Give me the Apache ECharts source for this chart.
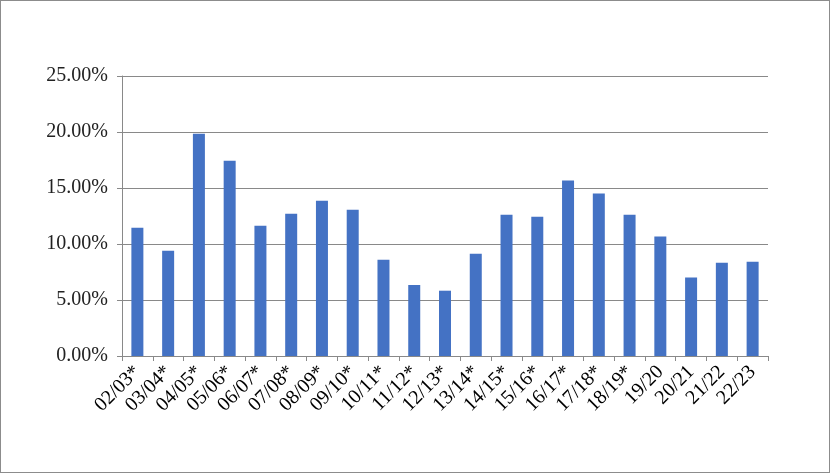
<!DOCTYPE html>
<html>
<head>
<meta charset="utf-8">
<script src="https://cdn.jsdelivr.net/npm/echarts@6/dist/echarts.min.js"></script>
<style>
html,body{margin:0;padding:0;background:#fff;}
#box{width:830px;height:473px;box-sizing:border-box;border:1px solid #8c8c8c;position:relative;}
#chart{position:absolute;left:-1px;top:-1px;width:830px;height:473px;}
</style>
</head>
<body>
<div id="box"><div id="chart"></div></div>
<script>
const categories = ['02/03*','03/04*','04/05*','05/06*','06/07*','07/08*','08/09*','09/10*','10/11*','11/12*','12/13*','13/14*','14/15*','15/16*','16/17*','17/18*','18/19*','19/20','20/21','21/22','22/23'];
const values = [11.46, 9.40, 19.85, 17.44, 11.63, 12.70, 13.86, 13.06, 8.60, 6.35, 5.83, 9.14, 12.62, 12.44, 15.66, 14.50, 12.62, 10.66, 7.00, 8.33, 8.42];
const yTicks = { min: 0, max: 25, interval: 5 };

const chart = echarts.init(document.getElementById('chart'), null, {renderer:'canvas'});
const gray = '#898989';
chart.setOption({
  animation: false,
  grid: { left: 122, right: 62, top: 76, bottom: 117, containLabel: false },
  xAxis: {
    type: 'category',
    data: categories,
    axisLine: { show: true, lineStyle: { color: gray, width: 1 } },
    axisTick: { show: true, length: 5, lineStyle: { color: gray } },
    axisLabel: { rotate: 45, margin: 13, color: '#000', fontFamily: 'Liberation Serif', fontSize: 20, interval: 0 }
  },
  yAxis: {
    type: 'value',
    min: yTicks.min, max: yTicks.max, interval: yTicks.interval,
    axisLine: { show: true, lineStyle: { color: gray, width: 1 } },
    axisTick: { show: true, length: 5, lineStyle: { color: gray } },
    splitLine: { show: true, lineStyle: { color: gray, width: 1 } },
    axisLabel: { margin: 14, color: '#222', fontFamily: 'Liberation Serif', fontSize: 20, formatter: v => v.toFixed(2) + '%' }
  },
  series: [{
    type: 'bar',
    data: values,
    barWidth: 12,
    itemStyle: { color: '#4472C4' }
  }]
});
</script>
</body>
</html>
